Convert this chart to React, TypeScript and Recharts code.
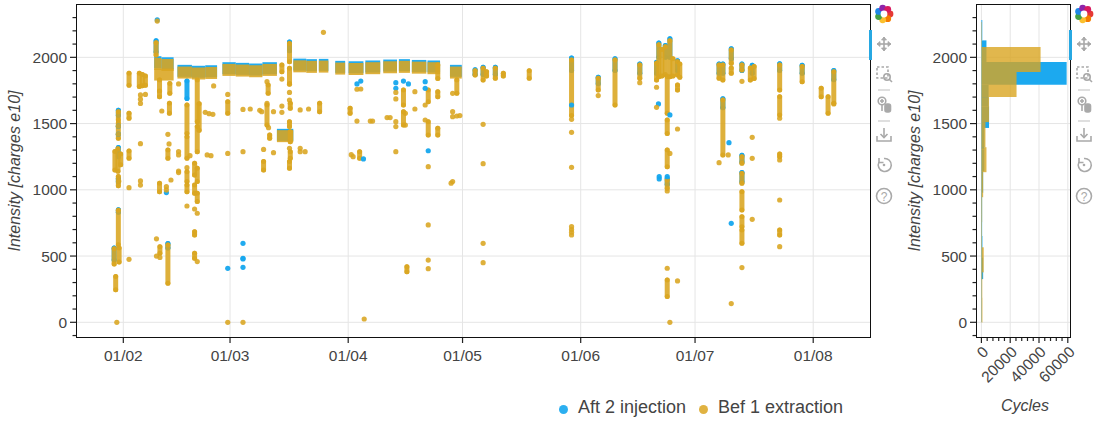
import React from 'react';
import { ScatterChart, Scatter, XAxis, YAxis, CartesianGrid, ErrorBar, ReferenceArea } from 'recharts';

// x = day of year (1 Jan = 0), y = intensity [charges e10]
const monthTicks = [31, 59, 90, 120, 151, 181, 212];
const monthLabels = ['01/02', '01/03', '01/04', '01/05', '01/06', '01/07', '01/08'];
const intensityMajor = [0, 500, 1000, 1500, 2000];
const intensityMinor = [-100, 0, 100, 200, 300, 400, 500, 600, 700, 800, 900, 1000, 1100, 1200, 1300, 1400, 1500, 1600, 1700, 1800, 1900, 2000, 2100, 2200, 2300];
const cycleMajor = [0, 20000, 40000, 60000];
const cycleMinor = [0, 4000, 8000, 12000, 16000, 20000, 24000, 28000, 32000, 36000, 40000, 44000, 48000, 52000, 56000, 60000];

const dayDomain: [number, number] = [18.85, 226.9];
const intensityDomain: [number, number] = [-111, 2395];
const cycleDomain: [number, number] = [-3070, 61530];

const BLUE = '#15a6ee';
const ORANGE = '#daa520';
const TEXT = '#444444';

// dense vertical clusters: [day, low, high]
const orangeStreaks: [number, number, number][] = [
  [28.6, 440, 555], [29.0, 245, 345], [29.7, 1527, 1590], [29.7, 1390, 1505], [28.8, 1150, 1290],
  [29.6, 1140, 1310], [30.3, 1190, 1270], [29.7, 1030, 1100], [29.7, 585, 845], [29.9, 455, 560],
  [32.5, 1790, 1880], [32.5, 1540, 1577], [32.5, 1238, 1293],
  [35.2, 1780, 1880], [36.0, 1785, 1870], [36.8, 1790, 1860],
  [39.6, 2017, 2110], [40.5, 1703, 1829], [43.2, 1728, 1803], [43.1, 1577, 1653], [42.7, 1238, 1300],
  [40.5, 986, 1049], [40.6, 521, 571], [42.7, 294, 584],
  [47.7, 1426, 1640], [47.7, 1238, 1401], [47.7, 1062, 1137], [47.7, 986, 1036],
  [49.7, 1112, 1200], [49.7, 974, 1036], [49.7, 659, 684], [49.7, 483, 521],
  [50.4, 1514, 1829], [50.4, 1288, 1477], [50.9, 1450, 1650], [50.4, 1062, 1162], [50.4, 911, 974],
  [58.4, 1577, 1665],
  [67.8, 1150, 1213], [69.0, 1728, 1791], [68.7, 1489, 1640], [69.4, 1389, 1414],
  [72.6, 1892, 1942],
  [74.6, 1967, 2105], [74.6, 1803, 1917], [74.8, 1615, 1653], [74.6, 1477, 1514], [74.8, 1363, 1439],
  [74.8, 1238, 1288], [74.6, 1162, 1213],
  [82.5, 1590, 1653], [90.5, 1577, 1615], [93.0, 1238, 1288],
  [104.5, 1640, 1753], [104.5, 1489, 1590], [105.4, 382, 420],
  [111.0, 1665, 1753], [111.0, 1414, 1514],
  [113.5, 1841, 1942], [113.5, 1703, 1741], [113.5, 1414, 1464],
  [118.5, 1728, 1829],
  [123.3, 1867, 1899], [125.4, 1829, 1917], [126.3, 1859, 1892], [128.6, 1842, 1917], [130.7, 1859, 1879],
  [137.5, 1842, 1899],
  [148.6, 1560, 1980],
  [155.6, 1753, 1842], [160.0, 1640, 1980], [166.5, 1842, 1942], [170.9, 1829, 1955],
  [171.5, 1854, 2095], [172.3, 1860, 2060], [173.2, 1870, 2080], [174.4, 1854, 2125], [175.2, 1860, 1990],
  [176.4, 1867, 1967], [177.0, 1850, 1950],
  [173.7, 1577, 1854], [173.7, 1426, 1527], [173.7, 1175, 1300], [173.7, 1011, 1074], [173.7, 194, 319],
  [176.4, 1753, 1791],
  [187.3, 1842, 1942], [188.3, 1829, 1942], [188.3, 1263, 1678], [190.5, 1955, 2055], [190.5, 1880, 1920],
  [193.3, 1904, 1942], [193.3, 1200, 1250], [193.3, 1049, 1124], [193.3, 848, 986], [193.3, 722, 797],
  [193.3, 596, 697],
  [195.5, 1829, 1920], [196.5, 1840, 1930],
  [203.2, 1753, 1942], [203.2, 1565, 1703], [203.2, 1250, 1270], [203.2, 659, 697],
  [209.1, 1816, 1930], [214.1, 1703, 1766], [215.9, 1577, 1703], [217.4, 1653, 1892],
];

// dense horizontal band pieces: [startDay, endDay, intensity]
const orangeRuns: [number, number, number][] = [
  [39.1, 41.0, 1950], [41.0, 44.2, 1942], [39.1, 44.2, 1870],
  [45.2, 49.0, 1885], [49.0, 52.5, 1878], [52.5, 55.6, 1882],
  [57.0, 60.5, 1905], [60.5, 64.0, 1900], [64.0, 67.5, 1895], [67.5, 71.3, 1905],
  [71.3, 75.6, 1405],
  [75.6, 79.0, 1932], [79.0, 81.8, 1928], [82.3, 84.8, 1930],
  [86.6, 89.2, 1915],
  [90.1, 94.0, 1912], [94.5, 98.4, 1918],
  [99.2, 102.8, 1925], [103.3, 106.2, 1928],
  [106.7, 110.5, 1922], [110.8, 114.1, 1918],
  [116.7, 119.8, 1885],
];

// isolated shots: [day, intensity]
const orangeDots: [number, number][] = [
  [29.3, 0], [29.7, 1480], [29.7, 1420], [29.8, 1065], [32.5, 1016], [32.5, 475],
  [35.5, 1716], [35.5, 1684], [35.5, 1652], [36.8, 1720], [35.5, 1348], [35.5, 1067], [35.5, 1036],
  [39.9, 2274], [40.5, 1746], [41.1, 1595], [42.7, 1419], [43.0, 1346], [43.5, 1074], [42.3, 1024], [42.3, 999],
  [39.7, 630], [39.7, 500], [40.6, 490],
  [45.5, 1799], [45.5, 1288], [45.5, 1263], [45.5, 1142], [45.5, 1130], [47.7, 1167], [47.7, 878], [48.5, 1258],
  [49.7, 855], [50.4, 823], [50.4, 458],
  [52.5, 1585], [53.5, 1575], [54.5, 1570], [53.0, 1263], [54.0, 1258], [54.7, 1784],
  [58.4, 1720], [58.4, 1275], [58.4, 0], [62.4, 1607], [62.4, 1288], [62.4, 0],
  [64.3, 1610], [66.8, 1600], [67.3, 1590], [70.4, 1590],
  [68.7, 1816], [68.7, 1653], [69.1, 1469], [67.8, 1305], [70.4, 1280],
  [72.6, 1836], [72.6, 1632], [72.6, 1585],
  [74.6, 1796], [74.6, 1735], [74.6, 1678], [74.6, 1313],
  [77.4, 1603], [77.4, 1313], [77.4, 1288], [78.7, 1288], [79.6, 1610],
  [83.5, 2189], [90.8, 1265], [91.3, 1250],
  [92.3, 1759], [93.3, 1761], [92.3, 1519], [94.2, 25],
  [95.8, 1519], [96.4, 1519], [100.2, 1545], [101.0, 1545],
  [102.5, 1735], [102.5, 1686], [102.5, 1514], [102.5, 1477], [102.5, 1288],
  [105.0, 1577], [105.0, 1489], [107.5, 1741], [107.5, 1610],
  [110.2, 1640], [110.2, 1527], [111.0, 1175], [111.0, 735], [111.0, 470], [111.0, 405],
  [117.4, 1728], [117.4, 1590], [117.4, 1552], [117.4, 1062], [117.0, 1050], [118.5, 1557], [119.3, 1560],
  [125.4, 1494], [125.4, 1197], [125.4, 596], [125.4, 450],
  [148.6, 1532], [148.6, 1434], [148.6, 1170], [148.6, 722], [148.6, 700], [148.6, 680], [148.6, 659],
  [155.6, 1711], [166.5, 1809], [170.9, 1774], [170.9, 1623],
  [173.7, 991], [173.7, 408], [174.4, 0], [174.4, 1275], [176.4, 1459], [176.4, 312],
  [187.3, 1205], [189.7, 1263], [190.5, 141], [193.3, 1819], [193.3, 413],
  [196.0, 1396], [196.0, 1238], [196.0, 777],
  [203.2, 1540], [203.2, 1225], [203.2, 923], [203.2, 571], [217.4, 1648],
];

const blueStreaks: [number, number, number][] = [
  [28.6, 470, 560], [29.7, 1560, 1600], [29.7, 1250, 1320], [29.7, 830, 850], [29.7, 1060, 1085],
  [39.6, 2040, 2125], [47.7, 1690, 1821], [42.7, 560, 595], [74.6, 2050, 2115],
  [123.3, 1870, 1907], [125.4, 1870, 1925], [128.6, 1870, 1925],
  [148.6, 1900, 1995], [155.6, 1800, 1850], [160.0, 1900, 1990], [166.5, 1880, 1950], [170.9, 1880, 1962],
  [171.5, 2000, 2108], [173.2, 2000, 2090], [174.4, 2000, 2140], [176.4, 1900, 1975], [173.7, 1040, 1085],
  [187.3, 1880, 1950], [188.3, 1880, 1950], [188.3, 1620, 1688], [190.5, 1990, 2065],
  [193.3, 1900, 1950], [193.3, 1210, 1260], [193.3, 1060, 1130], [196.0, 1880, 1940],
  [203.2, 1900, 1952], [209.1, 1880, 1940], [217.4, 1830, 1900],
];

const blueRuns: [number, number, number][] = [
  [39.1, 41.0, 1963], [41.0, 44.2, 1955],
  [45.2, 49.0, 1898], [49.0, 52.5, 1891], [52.5, 55.6, 1895],
  [57.0, 60.5, 1918], [60.5, 64.0, 1913], [64.0, 67.5, 1908], [67.5, 71.3, 1918],
  [71.3, 75.6, 1415],
  [75.6, 79.0, 1945], [79.0, 81.8, 1941], [82.3, 84.8, 1943],
  [86.6, 89.2, 1928],
  [90.1, 94.0, 1925], [94.5, 98.4, 1931],
  [99.2, 102.8, 1938], [103.3, 106.2, 1941],
  [106.7, 110.5, 1935], [110.8, 114.1, 1931],
  [116.7, 119.8, 1898],
];

const blueDots: [number, number][] = [
  [39.9, 2282], [29.7, 1480], [29.7, 1420], [42.3, 979], [58.4, 407], [62.4, 596], [62.4, 483], [62.4, 478],
  [62.4, 415], [92.3, 1799], [93.3, 1821], [94.0, 1233], [102.5, 1809], [102.5, 1766], [104.5, 1821],
  [105.8, 1799], [110.2, 1816], [110.2, 1766], [111.0, 1295], [171.6, 1099], [171.6, 1082], [173.7, 1099],
  [174.4, 1565], [189.9, 1356], [190.5, 747], [171.4, 1648], [148.6, 1640],
];

// histogram bins: [low, high, cycles]
const blueBins: [number, number, number][] = [
  [0, 163, 300], [163, 326, 300], [326, 489, 1200], [489, 652, 700], [652, 815, 500], [815, 978, 500],
  [978, 1141, 1200], [1141, 1304, 2000], [1304, 1467, 2000], [1467, 1630, 5300], [1630, 1793, 5000],
  [1793, 1965, 59200], [1965, 2128, 3500], [2128, 2282, 600],
];
const orangeBins: [number, number, number][] = [
  [-1, 188, 700], [188, 377, 600], [377, 566, 1600], [566, 755, 400], [755, 944, 500], [944, 1133, 1200],
  [1133, 1322, 3500], [1322, 1511, 2800], [1511, 1700, 5300], [1700, 1889, 24400], [1889, 2078, 41100],
  [2078, 2267, 300],
];

const streakRows = (s: [number, number, number][]) => s.map(([x, lo, hi]) => ({ x, y: lo, span: [0, hi - lo] }));
const runRows = (r: [number, number, number][]) => r.map(([d0, d1, y]) => ({ x: d0, y, span: [0, d1 - d0] }));
const dotRows = (d: [number, number][]) => d.map(([x, y]) => ({ x, y }));

const Hidden = () => <g />;

function IntensityTick(props: any) {
  const { x, y, payload } = props;
  const major = intensityMajor.includes(payload.value);
  return (
    <g>
      <line x1={x - (major ? 7 : 4.5)} x2={x} y1={y} y2={y} stroke="#222" strokeWidth={1.2} />
      {major && (
        <text x={x - 10} y={y} dy="0.36em" textAnchor="end" fill={TEXT} fontSize={15.5}>
          {payload.value}
        </text>
      )}
    </g>
  );
}

function MonthTick(props: any) {
  const { x, y, payload } = props;
  const label = monthLabels[monthTicks.indexOf(payload.value)];
  return (
    <g>
      <line x1={x} x2={x} y1={y} y2={y + 6} stroke="#222" strokeWidth={1.2} />
      <text x={x} y={y + 18} dy="0.36em" textAnchor="middle" fill={TEXT} fontSize={15.5}>
        {label}
      </text>
    </g>
  );
}

function CycleTick(props: any) {
  const { x, y, payload } = props;
  const major = cycleMajor.includes(payload.value);
  return (
    <g>
      <line x1={x} x2={x} y1={y} y2={y + (major ? 6 : 4)} stroke="#222" strokeWidth={1.2} />
      {major && (
        <text transform={`translate(${x + 4},${y + 12}) rotate(-45)`} dy="0.36em" textAnchor="end" fill={TEXT} fontSize={15.5}>
          {payload.value}
        </text>
      )}
    </g>
  );
}

function Toolbar({ left }: { left: number }) {
  const g = '#a9a9a9';
  const petals = ['#e53935', '#f57c00', '#fbc02d', '#43a047', '#1e88e5', '#8e24aa', '#d81b60'];
  return (
    <svg style={{ position: 'absolute', left, top: 0 }} width={26} height={210}>
      <g transform="translate(13,14)">
        {petals.map((c, i) => (
          <circle key={c} cx={6 * Math.cos((i * 2 * Math.PI) / 7)} cy={6 * Math.sin((i * 2 * Math.PI) / 7)} r={3.4} fill={c} />
        ))}
        <circle r={3.4} fill="#fff" />
      </g>
      <g stroke={g} strokeWidth={1.6} fill="none">
        <line x1={6} y1={44} x2={20} y2={44} />
        <line x1={13} y1={37} x2={13} y2={51} />
        <path d="M6 44 l3 -2.5 v5 z M20 44 l-3 -2.5 v5 z M13 37 l-2.5 3 h5 z M13 51 l-2.5 -3 h5 z" fill={g} strokeWidth={0.8} />
        <rect x={6} y={67} width={11} height={11} strokeDasharray="2.5 2" />
        <circle cx={16} cy={77} r={3.2} />
        <line x1={18.3} y1={79.3} x2={21} y2={82} />
        <line x1={7} y1={90} x2={19} y2={90} stroke="#d8d8d8" />
        <circle cx={11} cy={101} r={3.8} />
        <line x1={9} y1={101} x2={13} y2={101} />
        <line x1={11} y1={99} x2={11} y2={103} />
        <line x1={11} y1={105} x2={11} y2={111} />
        <rect x={14} y={104} width={5.5} height={8} rx={2} fill={g} />
        <line x1={7} y1={121} x2={19} y2={121} stroke="#d8d8d8" />
        <line x1={13} y1={128} x2={13} y2={137} />
        <path d="M9.5 134 L13 137.5 L16.5 134" />
        <path d="M6 136 V141 H20 V136" />
        <path d="M8 162 A6.5 6.5 0 1 0 13 158.5" />
        <path d="M8 158 v4.5 h4.5" />
        <circle cx={13} cy={165} r={1.3} fill={g} stroke="none" />
        <circle cx={13} cy={196} r={7.5} />
      </g>
      <text x={13} y={200.5} textAnchor="middle" fontSize={12} fill={g}>?</text>
    </svg>
  );
}

export default function App() {
  const layers = (
    color: string,
    alpha: number,
    streaks: [number, number, number][],
    runs: [number, number, number][],
    dots: [number, number][],
    name: string,
  ) => [
    <Scatter key={`${name}-runs`} data={runRows(runs)} dataKey="y" shape={Hidden} isAnimationActive={false}>
      <ErrorBar dataKey="span" direction="x" width={0} stroke={color} strokeOpacity={alpha} strokeWidth={12} strokeLinecap="butt" isAnimationActive={false} />
    </Scatter>,
    <Scatter key={`${name}-streaks`} data={streakRows(streaks)} dataKey="y" shape={Hidden} isAnimationActive={false}>
      <ErrorBar dataKey="span" direction="y" width={0} stroke={color} strokeOpacity={alpha} strokeWidth={5} strokeLinecap="round" isAnimationActive={false} />
    </Scatter>,
    <Scatter
      key={`${name}-dots`}
      data={dotRows(dots)}
      dataKey="y"
      isAnimationActive={false}
      shape={(p: any) => <circle cx={p.cx} cy={p.cy} r={2.6} fill={color} fillOpacity={alpha} />}
    />,
  ];

  return (
    <div
      style={{
        position: 'absolute',
        left: 0,
        top: 0,
        width: 1100,
        height: 430,
        background: '#fff',
        fontFamily: '"Liberation Sans", Arial, Helvetica, sans-serif',
        color: TEXT,
      }}
    >
      <div style={{ position: 'absolute', left: 0, top: 0 }}>
        <ScatterChart width={880} height={380} margin={{ top: 5, right: 10, bottom: 0, left: 0 }}>
          <CartesianGrid stroke="#e5e5e5" horizontalValues={intensityMajor} verticalValues={monthTicks} />
          <XAxis
            type="number"
            dataKey="x"
            domain={dayDomain}
            allowDataOverflow
            ticks={monthTicks}
            interval={0}
            tick={<MonthTick />}
            tickLine={false}
            axisLine={false}
            tickSize={0}
            tickMargin={0}
            height={43}
          />
          <YAxis
            type="number"
            dataKey="y"
            domain={intensityDomain}
            allowDataOverflow
            ticks={intensityMinor}
            interval={0}
            tick={<IntensityTick />}
            tickLine={false}
            axisLine={false}
            tickSize={0}
            tickMargin={0}
            width={77}
          />
          {layers(BLUE, 0.95, blueStreaks, blueRuns, blueDots, 'aft')}
          {layers(ORANGE, 0.88, orangeStreaks, orangeRuns, orangeDots, 'bef')}
        </ScatterChart>
      </div>

      <div style={{ position: 'absolute', left: 900, top: 0 }}>
        <ScatterChart width={180} height={430} margin={{ top: 5, right: 10, bottom: 50, left: 0 }}>
          <CartesianGrid stroke="#e5e5e5" horizontalValues={intensityMajor} verticalValues={cycleMajor} />
          <XAxis
            type="number"
            dataKey="x"
            domain={cycleDomain}
            allowDataOverflow
            ticks={cycleMinor}
            interval={0}
            tick={<CycleTick />}
            tickLine={false}
            axisLine={false}
            tickSize={0}
            tickMargin={0}
            height={43}
          />
          <YAxis
            type="number"
            dataKey="y"
            domain={intensityDomain}
            allowDataOverflow
            ticks={intensityMinor}
            interval={0}
            tick={<IntensityTick />}
            tickLine={false}
            axisLine={false}
            tickSize={0}
            tickMargin={0}
            width={77}
          />
          <Scatter data={[]} dataKey="y" isAnimationActive={false} />
          {blueBins.map(([lo, hi, n]) => (
            <ReferenceArea key={`b${lo}`} x1={0} x2={n} y1={lo} y2={hi} fill={BLUE} fillOpacity={0.97} stroke="none" />
          ))}
          {orangeBins.map(([lo, hi, n]) => (
            <ReferenceArea key={`o${lo}`} x1={0} x2={n} y1={lo} y2={hi} fill={ORANGE} fillOpacity={0.8} stroke="none" />
          ))}
        </ScatterChart>
      </div>

      {/* plot frames */}
      <div style={{ position: 'absolute', left: 76, top: 4, width: 795, height: 334, border: '1.5px solid #111', boxSizing: 'border-box' }} />
      <div style={{ position: 'absolute', left: 976, top: 4, width: 95, height: 334, border: '1.5px solid #111', boxSizing: 'border-box' }} />
      <div style={{ position: 'absolute', left: 869, top: 30, width: 3, height: 30, background: '#27a8e2' }} />
      <div style={{ position: 'absolute', left: 1069, top: 30, width: 3, height: 30, background: '#27a8e2' }} />

      {/* axis titles */}
      <div style={{ position: 'absolute', left: 15, top: 171, transform: 'translate(-50%, -50%) rotate(-90deg)', whiteSpace: 'nowrap', fontStyle: 'italic', fontSize: 16 }}>
        Intensity [charges e10]
      </div>
      <div style={{ position: 'absolute', left: 915, top: 171, transform: 'translate(-50%, -50%) rotate(-90deg)', whiteSpace: 'nowrap', fontStyle: 'italic', fontSize: 16 }}>
        Intensity [charges e10]
      </div>
      <div style={{ position: 'absolute', left: 1025, top: 406, transform: 'translate(-50%, -50%)', whiteSpace: 'nowrap', fontStyle: 'italic', fontSize: 16 }}>
        Cycles
      </div>

      {/* legend */}
      <div style={{ position: 'absolute', left: 559, top: 405, width: 9, height: 9, borderRadius: '50%', background: BLUE, opacity: 0.9 }} />
      <div style={{ position: 'absolute', left: 578, top: 396, fontSize: 18, lineHeight: '22px', whiteSpace: 'nowrap' }}>Aft 2 injection</div>
      <div style={{ position: 'absolute', left: 699, top: 405, width: 9, height: 9, borderRadius: '50%', background: ORANGE, opacity: 0.85 }} />
      <div style={{ position: 'absolute', left: 718, top: 396, fontSize: 18, lineHeight: '22px', whiteSpace: 'nowrap' }}>Bef 1 extraction</div>

      <Toolbar left={871} />
      <Toolbar left={1071} />
    </div>
  );
}
